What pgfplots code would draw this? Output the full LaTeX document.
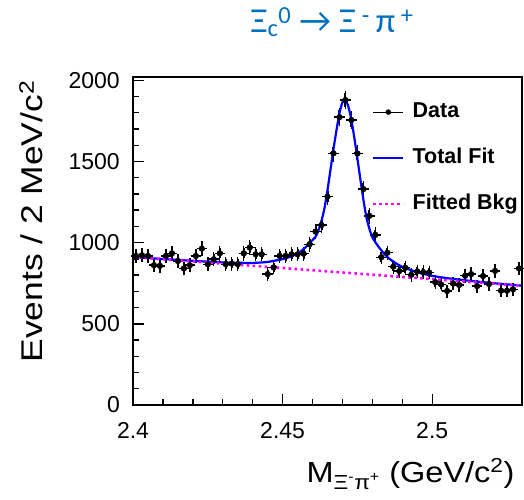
\documentclass[border=0pt]{standalone}
\usepackage{fontspec}
\setmainfont{Liberation Sans}
\newfontfamily\calibri{Carlito}
\usepackage{pgfplots}
\pgfplotsset{compat=1.18}
\usepackage{pgfplotstable}

\definecolor{titleblue}{RGB}{0,112,192}
\definecolor{bkgmag}{RGB}{255,0,255}
\definecolor{fitblue}{RGB}{0,0,255}

% data points, 2 MeV bins
\pgfplotstableread{
x      y     ex     ey
2.401  918   0.001  30.3
2.403  922   0.001  30.4
2.405  918   0.001  30.3
2.407  861   0.001  29.3
2.409  857   0.001  29.3
2.411  918   0.001  30.3
2.413  934   0.001  30.6
2.415  887   0.001  29.8
2.417  841   0.001  29.0
2.419  861   0.001  29.3
2.421  918   0.001  30.3
2.423  963   0.001  31.0
2.425  867   0.001  29.4
2.427  898   0.001  30.0
2.429  934   0.001  30.6
2.431  867   0.001  29.4
2.433  871   0.001  29.5
2.435  867   0.001  29.4
2.437  934   0.001  30.6
2.439  970   0.001  31.1
2.441  928   0.001  30.5
2.443  928   0.001  30.5
2.445  806   0.001  28.4
2.447  847   0.001  29.1
2.449  918   0.001  30.3
2.451  918   0.001  30.3
2.453  928   0.001  30.5
2.455  928   0.001  30.5
2.457  932   0.001  30.5
2.459  990   0.001  31.5
2.461  1068  0.001  32.7
2.463  1108  0.001  33.3
2.465  1283  0.001  35.8
2.467  1550  0.001  39.4
2.469  1773  0.001  42.1
2.471  1878  0.001  43.3
2.473  1755  0.001  41.9
2.475  1549  0.001  39.4
2.477  1330  0.001  36.5
2.479  1165  0.001  34.1
2.481  1048  0.001  32.4
2.483  910   0.001  30.2
2.485  938   0.001  30.6
2.487  852   0.001  29.2
2.489  825   0.001  28.7
2.491  845   0.001  29.1
2.493  802   0.001  28.3
2.495  822   0.001  28.7
2.497  818   0.001  28.6
2.499  816   0.001  28.6
2.501  757   0.001  27.5
2.503  742   0.001  27.2
2.505  702   0.001  26.5
2.507  748   0.001  27.3
2.509  739   0.001  27.2
2.511  796   0.001  28.2
2.513  806   0.001  28.4
2.515  732   0.001  27.1
2.517  794   0.001  28.2
2.519  745   0.001  27.3
2.521  826   0.001  28.7
2.523  704   0.001  26.5
2.525  704   0.001  26.5
2.527  712   0.001  26.7
2.529  841   0.001  29.0
}\datatable

% total fit
\pgfplotstableread{
x       y
2.400   912
2.410   899
2.420   888
2.430   878
2.435   876
2.440   875
2.445   881
2.450   899
2.453   916
2.456   946
2.458   977
2.460   1016
2.461   1036
2.462   1077
2.463   1135
2.464   1213
2.465   1323
2.466   1450
2.467   1576
2.468   1692
2.469   1798
2.470   1865
2.4708  1881
2.471   1879
2.472   1836
2.473   1755
2.474   1642
2.475   1517
2.476   1388
2.477   1265
2.478   1156
2.479   1086
2.480   1032
2.482   976
2.484   930
2.486   896
2.489   860
2.492   837
2.496   813
2.500   795
2.505   781
2.510   770
2.515   760
2.520   751
2.525   743
2.530   735
}\fittable

% fitted background
\pgfplotstableread{
x      y
2.400  912
2.465  823
2.530  734
}\bkgtable

\begin{document}
\begin{tikzpicture}
\useasboundingbox (-133pt,-94pt) rectangle (391pt,405pt);
\begin{axis}[
    scale only axis,
    width=389pt, height=328pt,
    xmin=2.4, xmax=2.53,
    ymin=0, ymax=2020,
    xtick={2.4,2.45,2.5},
    ytick={0,500,1000,1500,2000},
    minor x tick num=4,
    minor y tick num=4,
    tick align=inside,
    xtick pos=bottom, ytick pos=left,
    major tick length=11pt,
    minor tick length=6pt,
    axis line style={line width=1.6pt},
    every tick/.style={line width=1.4pt, black},
    axis on top,
    scaled ticks=false,
    /pgf/number format/assume math mode=true,
    /pgf/number format/set thousands separator={},
    ticklabel style={font=\fontsize{23}{23}\selectfont},
    yticklabel style={inner sep=0pt, anchor=east, xshift=-13pt},
    xticklabel style={inner sep=0pt, anchor=north, yshift=-17pt},
    xlabel={\scalebox{1.12}[1]{M\textsubscript{Ξ\textsuperscript{-}π\textsuperscript{+}} (GeV/c\textsuperscript{2})}},
    xlabel style={at={(axis description cs:1,0)}, anchor=base east,
        yshift=-77pt, xshift=-4pt, font=\fontsize{29}{29}\selectfont},
    ylabel={\scalebox{1.18}[1]{Events / 2 MeV/c\textsuperscript{2}}},
    ylabel style={at={(axis description cs:-0.2314,1)}, anchor=base east,
        font=\fontsize{30}{30}\selectfont},
    title={\calibri Ξ\textsubscript{c}\textsuperscript{0} → Ξ\,\textsuperscript{-}\,π\,\textsuperscript{+}},
    title style={at={(axis description cs:0.5116,1.1159)}, anchor=base,
        text=titleblue, font=\fontsize{35}{35}\selectfont},
    legend style={at={(axis description cs:0.614,0.924)}, anchor=north west,
        draw=none, fill=none, inner sep=0pt,
        font=\bfseries\fontsize{21.5}{21.5}\selectfont,
        row sep=26pt, column sep=8pt,
        nodes={inner sep=0pt, text height=15pt, text depth=5pt}},
    legend cell align=left,
    clip=false,
]
\addplot[black, only marks, mark=*, mark size=2.9pt,
    legend image code/.code={
        \draw[black, line width=1pt] (0pt,0pt) -- (30pt,0pt);
        \fill[black] (15pt,0pt) circle (2.5pt);},
    error bars/.cd, x dir=both, x explicit, y dir=both, y explicit,
    error bar style={line width=2pt, black},
    error mark options={mark size=2.2pt, line width=1.4pt}]
    table[x=x, y=y, x error=ex, y error=ey] {\datatable};
\addlegendentry{Data}
\addplot[fitblue, line width=2.2pt, smooth, tension=0.4,
    legend image code/.code={
        \draw[fitblue, line width=2.2pt] (0pt,0pt) -- (30pt,0pt);}]
    table[x=x, y=y] {\fittable};
\addlegendentry{Total Fit}
\addplot[bkgmag, line width=2.6pt, dash pattern=on 2.6pt off 3.4pt,
    legend image code/.code={
        \draw[bkgmag, line width=2.6pt, dash pattern=on 2.6pt off 3.4pt] (0pt,0pt) -- (30pt,0pt);}]
    table[x=x, y=y] {\bkgtable};
\addlegendentry{Fitted Bkg}
\end{axis}
\end{tikzpicture}
\end{document}
